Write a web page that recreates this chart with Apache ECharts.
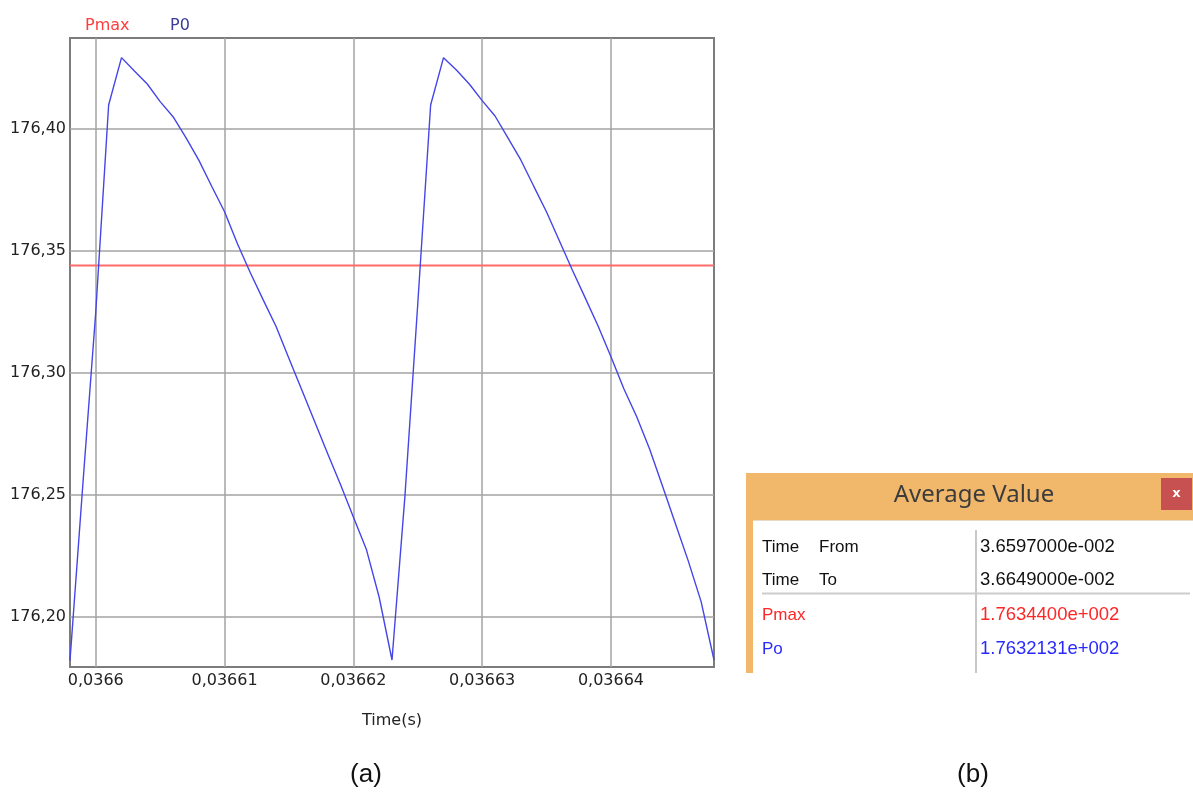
<!DOCTYPE html>
<html>
<head>
<meta charset="utf-8">
<title>Pmax / P0</title>
<script src="https://cdn.jsdelivr.net/npm/echarts@6/dist/echarts.min.js"></script>
<style>
  html, body { margin: 0; padding: 0; background: #ffffff; }
  #chart { width: 1193px; height: 792px; }
</style>
</head>
<body>
<div id="chart"></div>
<script>
// Sample times (s), 1 µs step
const times = [
  0.036598, 0.036599, 0.036600, 0.036601, 0.036602, 0.036603, 0.036604, 0.036605, 0.036606, 0.036607,
  0.036608, 0.036609, 0.036610, 0.036611, 0.036612, 0.036613, 0.036614, 0.036615, 0.036616, 0.036617,
  0.036618, 0.036619, 0.036620, 0.036621, 0.036622, 0.036623, 0.036624, 0.036625, 0.036626, 0.036627,
  0.036628, 0.036629, 0.036630, 0.036631, 0.036632, 0.036633, 0.036634, 0.036635, 0.036636, 0.036637,
  0.036638, 0.036639, 0.036640, 0.036641, 0.036642, 0.036643, 0.036644, 0.036645, 0.036646, 0.036647,
  0.036648
];

// Output power P0
const p0 = [
  176.1822, 176.2545, 176.3249, 176.4097, 176.4291, 176.4236, 176.4183, 176.4111, 176.4049, 176.3963,
  176.3871, 176.3764, 176.3660, 176.3529, 176.3410, 176.3299, 176.3190, 176.3059, 176.2930, 176.2800,
  176.2670, 176.2543, 176.2410, 176.2279, 176.2082, 176.1824, 176.2492, 176.3282, 176.4097, 176.4291,
  176.4240, 176.4183, 176.4115, 176.4052, 176.3962, 176.3872, 176.3765, 176.3659, 176.3540, 176.3421,
  176.3307, 176.3192, 176.3066, 176.2935, 176.2820, 176.2688, 176.2537, 176.2383, 176.2230, 176.2063,
  176.1824
];

// Maximum power level and averaging window
const pmaxLevel = 176.344;
const poAverage = 176.32131;
const timeFrom = 0.036597;
const timeTo = 0.036649;

// Axis ranges and tick values
const xRange = [0.036598, 0.036648];
const yRange = [176.17953, 176.43714];
const xTicks = [0.0366, 0.03661, 0.03662, 0.03663, 0.03664];
const yTicks = [176.20, 176.25, 176.30, 176.35, 176.40];

const axisFont = 'DejaVu Sans';
const panelFont = 'Liberation Sans';

// 1.7634400e+002 style
function sci(v) {
  const exp = Math.floor(Math.log10(Math.abs(v)));
  const mant = v / Math.pow(10, exp);
  const sign = exp < 0 ? '-' : '+';
  return mant.toFixed(7) + 'e' + sign + String(Math.abs(exp)).padStart(3, '0');
}

const tableRows = [
  { label: ['Time', 'From'], value: sci(timeFrom), color: '#111111' },
  { label: ['Time', 'To'], value: sci(timeTo), color: '#111111' },
  { label: ['Pmax'], value: sci(pmaxLevel), color: '#ff2626' },
  { label: ['Po'], value: sci(poAverage), color: '#2a2aff' }
];

const p0Data = times.map((t, i) => [t, p0[i]]);
const pmaxData = [[times[0], pmaxLevel], [times[times.length - 1], pmaxLevel]];

// Average-value dialog drawn beside the plot
const panel = [];
panel.push({ type: 'rect', shape: { x: 746, y: 473, width: 447, height: 200 }, style: { fill: '#f1b86c' } });
panel.push({ type: 'rect', shape: { x: 753, y: 520, width: 440, height: 153 }, style: { fill: '#ffffff' } });
panel.push({ type: 'line', shape: { x1: 753, y1: 520.5, x2: 1193, y2: 520.5 }, style: { stroke: '#e6d9c6', lineWidth: 1 } });
panel.push({ type: 'text', style: { x: 974, y: 495, text: 'Average Value', fill: '#3c3c3c',
  font: '24px "Noto Sans"', align: 'center', verticalAlign: 'middle' } });
panel.push({ type: 'rect', shape: { x: 1161, y: 478, width: 31, height: 32 }, style: { fill: '#c75050' } });
panel.push({ type: 'text', style: { x: 1176.5, y: 494, text: 'x', fill: '#ffffff',
  font: 'bold 13px "DejaVu Sans"', align: 'center', verticalAlign: 'middle' } });
panel.push({ type: 'line', shape: { x1: 976, y1: 530, x2: 976, y2: 673 }, style: { stroke: '#c8c8c8', lineWidth: 2 } });
panel.push({ type: 'line', shape: { x1: 762, y1: 593.5, x2: 1190, y2: 593.5 }, style: { stroke: '#cccccc', lineWidth: 2 } });
const rowY = [547, 580, 615, 649];
tableRows.forEach((row, i) => {
  panel.push({ type: 'text', style: { x: 762, y: rowY[i], text: row.label[0], fill: row.color,
    font: '17px "' + panelFont + '"', verticalAlign: 'middle' } });
  if (row.label[1]) {
    panel.push({ type: 'text', style: { x: 819, y: rowY[i], text: row.label[1], fill: row.color,
      font: '17px "' + panelFont + '"', verticalAlign: 'middle' } });
  }
  panel.push({ type: 'text', style: { x: 980, y: rowY[i], text: row.value, fill: row.color,
    font: '18.5px "' + panelFont + '"', verticalAlign: 'middle' } });
});
panel.push({ type: 'text', style: { x: 366, y: 775, text: '(a)', fill: '#111111',
  font: '26px "Liberation Sans"', align: 'center', verticalAlign: 'middle' } });
panel.push({ type: 'text', style: { x: 973, y: 775, text: '(b)', fill: '#111111',
  font: '26px "Liberation Sans"', align: 'center', verticalAlign: 'middle' } });

const chart = echarts.init(document.getElementById('chart'), null, { renderer: 'canvas' });
chart.setOption({
  animation: false,
  backgroundColor: '#ffffff',
  legend: {
    left: 75,
    top: 13,
    icon: 'rect',
    itemWidth: 0,
    itemHeight: 0,
    itemGap: 35.5,
    selectedMode: false,
    textStyle: { fontFamily: axisFont, fontSize: 16 },
    data: [
      { name: 'Pmax', textStyle: { color: '#ff3b3b' } },
      { name: 'P0', textStyle: { color: '#3a3aa0' } }
    ]
  },
  grid: {
    left: 70, right: 479, top: 38, bottom: 125,
    show: true, borderColor: '#7c7c7c', borderWidth: 2, backgroundColor: '#ffffff'
  },
  xAxis: {
    type: 'value',
    min: xRange[0], max: xRange[1],
    name: 'Time(s)',
    nameLocation: 'middle',
    nameGap: 46,
    nameTextStyle: { fontFamily: axisFont, fontSize: 16, color: '#222222' },
    axisLine: { show: false },
    axisTick: { show: true, length: 0, customValues: xTicks },
    axisLabel: {
      customValues: xTicks,
      margin: 6,
      fontFamily: axisFont, fontSize: 16, color: '#222222',
      formatter: v => String(v).replace('.', ',')
    },
    splitLine: { show: true, lineStyle: { color: '#a3a3a3', width: 1.5 } }
  },
  yAxis: {
    type: 'value',
    min: yRange[0], max: yRange[1],
    axisLine: { show: false },
    axisTick: { show: true, length: 0, customValues: yTicks },
    axisLabel: {
      customValues: yTicks,
      margin: 4,
      fontFamily: axisFont, fontSize: 16, color: '#222222',
      formatter: v => v.toFixed(2).replace('.', ',')
    },
    splitLine: { show: true, lineStyle: { color: '#a3a3a3', width: 1.5 } }
  },
  series: [
    {
      name: 'Pmax',
      type: 'line',
      data: pmaxData,
      showSymbol: false,
      color: '#ff6a6a',
      lineStyle: { color: '#ff6a6a', width: 2 },
      z: 2
    },
    {
      name: 'P0',
      type: 'line',
      data: p0Data,
      showSymbol: false,
      color: '#4545e8',
      lineStyle: { color: '#4545e8', width: 1.4 },
      z: 3
    }
  ],
  graphic: panel
});
</script>
</body>
</html>
